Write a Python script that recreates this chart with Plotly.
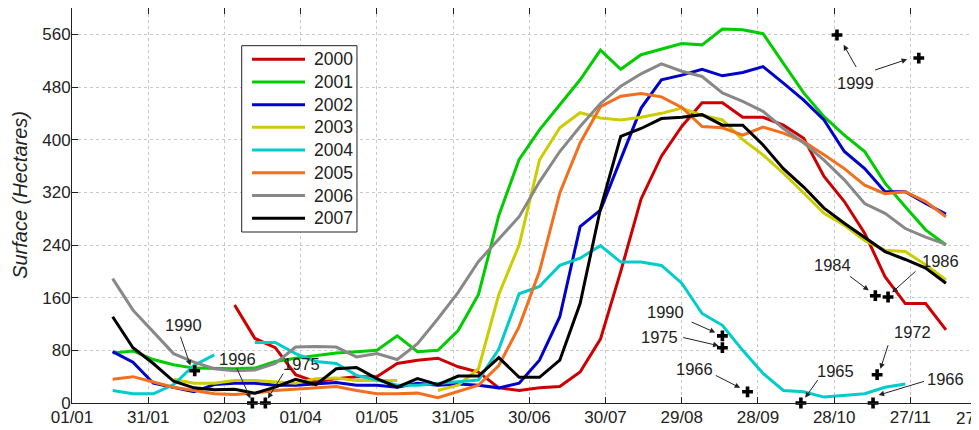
import plotly.graph_objects as go

# ---- data -------------------------------------------------------------
days = [16, 24, 32, 40, 48, 56, 64, 72, 80, 88, 96, 104, 112, 120, 128, 136,
        144, 152, 160, 168, 176, 184, 192, 200, 208, 216, 224, 232, 240, 248,
        256, 264, 272, 280, 288, 296, 304, 312, 320, 328, 336, 344]

y2000 = [None, None, None, None, None, None, 149, 98, 84, 43, 32, 37, 40, 40, 60, 65,
         68, 55, 47, 23, 19, 23, 25, 47, 97, 200, 310, 375, 420, 456,
         456, 434, 434, 422, 402, 344, 306, 258, 192, 151, 151, 111]
y2001 = [76, 79, 66, 58, 53, 52, 52, 53, 63, 68, 72, 76, 78, 80, 102, 78,
         80, 110, 165, 285, 370, 415, 453, 491, 536, 507, 529, 537, 546, 544,
         568, 567, 561, 516, 471, 435, 407, 382, 334, 298, 263, 240]
y2002 = [78, 62, 30, 24, 17, 28, 30, 30, 27, 27, 29, 31, 27, 27, 24, 30,
         27, 29, 27, 23, 30, 65, 131, 268, 293, 369, 448, 491, 498, 507,
         497, 502, 511, 486, 460, 430, 382, 356, 321, 321, 303, 287]
y2003 = [None, None, None, 36, 30, 30, 34, 34, 32, 30, 37, 38, 34, 34, 34, None,
         19, 27, 52, 165, 240, 369, 418, 441, 433, 430, 434, 440, 448, 437,
         430, 400, 377, 349, 319, 288, 270, 247, 232, 230, 210, 187]
y2004 = [19, 14, 14, 28, 57, 73, None, 92, 92, 75, 63, 60, 42, 35, 27, 27,
         30, 32, 35, 82, 166, 177, 209, 220, 239, 214, 214, 209, 182, 136,
         118, 80, 45, 19, 17, 9, 12, 14, 24, 29, None, None]
y2005 = [36, 40, 32, 24, 19, 14, 13, 15, 19, 21, 23, 25, 19, 14, 14, 15,
         8, 17, 27, 57, 116, 200, 319, 395, 450, 466, 470, 465, 449, 420,
         418, 407, 419, 410, 397, 377, 356, 331, 318, 321, 306, 283]
y2006 = [189, 141, 108, 75, 62, 52, 49, 50, 60, 85, 86, 85, 70, 75, 66, 90,
         128, 168, 215, 249, 283, 336, 382, 420, 455, 481, 500, 515, 504, 496,
         471, 458, 443, 417, 395, 369, 339, 303, 288, 265, 252, 241]
y2007 = [131, 84, 60, 33, 23, 20, 21, 15, 24, 36, 28, 52, 54, 37, 24, 37,
         28, 41, 41, 69, 39, 39, 65, 151, 295, 405, 417, 432, 434, 438,
         422, 422, 392, 356, 328, 296, 273, 252, 230, 218, 205, 182]

series_names = ["2000", "2001", "2002", "2003", "2004", "2005", "2006", "2007"]
series_values = [y2000, y2001, y2002, y2003, y2004, y2005, y2006, y2007]
series_colors = ["#CC0000", "#00CC00", "#0000CC", "#CCCC00",
                 "#00CCCC", "#F36F1E", "#888888", "#000000"]

# historical observations (+ markers)
marker_years = ["1990", "1996", "1975", "1999", "1999", "1990", "1975",
                "1966", "1965", "1984", "1986", "1972", "1966"]
marker_days = [48.3, 71, 76.1, 301.1, 333.3, 256, 256, 265.9, 286.9,
               316.2, 321.2, 316.9, 315.3]
marker_vals = [49, 0, 0, 559, 524, 102, 84, 17, 0, 163, 161, 43, 0]

tick_days = [0, 30, 60, 90, 120, 150, 180, 210, 240, 270, 300, 330, 360]
tick_labels = ["01/01", "31/01", "02/03", "01/04", "01/05", "31/05", "30/06",
               "30/07", "29/08", "28/09", "28/10", "27/11", "27/12"]
y_ticks = [0, 80, 160, 240, 320, 400, 480, 560]
X_MAX = 357

# label placement (text centre, arrow tail -> arrow tip), in data units
labels = [
    ("1990", 43.7, 118, [(42.5, 103, 46.6, 57)]),
    ("1996", 65.3, 67.5, [(64.6, 55, 70.2, 7)]),
    ("1975", 90.3, 59, [(83.5, 47, 77.1, 7)]),
    ("1999", 308.3, 486, [(309, 508, 303.7, 544), (315.5, 505, 328.7, 522)]),
    ("1990", 233.7, 138, [(243.3, 124, 253.2, 107)]),
    ("1975", 231.1, 101, [(240, 100, 254.5, 87)]),
    ("1966", 245, 52, [(252.8, 43, 263, 23)]),
    ("1965", 300.4, 49, [(293.9, 37, 288.6, 8)]),
    ("1984", 299.5, 210, [(305.7, 194, 313.6, 171)]),
    ("1986", 341.8, 215, [(332.6, 202, 322.8, 168)]),
    ("1972", 330.7, 108, [(321.4, 90, 318.2, 52)]),
    ("1966", 343.8, 37, [(335.9, 33.5, 317.5, 12)]),
]

FONT = "Liberation Sans, Arial, sans-serif"
TXT = "#222222"

fig = go.Figure()
for name, vals, col in zip(series_names, series_values, series_colors):
    fig.add_trace(go.Scatter(x=days, y=vals, mode="lines", name=name,
                             line=dict(color=col, width=3),
                             connectgaps=False, showlegend=False))

fig.add_trace(go.Scatter(x=marker_days, y=marker_vals, mode="markers",
                         text=marker_years, showlegend=False,
                         marker=dict(symbol="cross", size=9, color="black",
                                     line=dict(width=0)),
                         cliponaxis=False))

annotations = []
shapes = []
for text, tx, ty, arrows in labels:
    annotations.append(dict(x=tx, y=ty, xref="x", yref="y", text=text,
                            showarrow=False,
                            font=dict(family=FONT, size=16.5, color=TXT)))
    for (ax_, ay_, hx, hy) in arrows:
        annotations.append(dict(x=hx, y=hy, ax=ax_, ay=ay_, xref="x", yref="y",
                                axref="x", ayref="y", text="", showarrow=True,
                                arrowhead=2, arrowsize=1.1, arrowwidth=1,
                                arrowcolor=TXT))
# last x tick label lies just past the right edge (only partly visible)
annotations.append(dict(x=tick_days[-1] / X_MAX, y=0, xref="paper",
                        yref="paper", text=tick_labels[-1],
                        showarrow=False, xanchor="center", yanchor="top",
                        yshift=-4, xshift=-9,
                        font=dict(family=FONT, size=17, color=TXT)))
# y axis title
annotations.append(dict(x=-0.0573, y=0.527, xref="paper", yref="paper",
                        text="<i>Surface (Hectares)</i>", textangle=-90,
                        showarrow=False, xanchor="center", yanchor="middle",
                        font=dict(family=FONT, size=20, color=TXT)))

# legend box (paper coordinates)
LEG_X0, LEG_X1, LEG_Y0, LEG_Y1 = 0.1871, 0.3142, 0.4329, 0.9046
LINE_X0, LINE_X1, TEXT_X = 0.1985, 0.2569, 0.2646
ROW_TOP, ROW_STEP = 0.8703, 0.0575
shapes.append(dict(type="rect", xref="paper", yref="paper",
                   x0=LEG_X0, x1=LEG_X1, y0=LEG_Y0, y1=LEG_Y1,
                   line=dict(color=TXT, width=1), fillcolor="white",
                   layer="above"))
for i, (name, col) in enumerate(zip(series_names, series_colors)):
    yy = ROW_TOP - i * ROW_STEP
    shapes.append(dict(type="line", xref="paper", yref="paper",
                       x0=LINE_X0, x1=LINE_X1, y0=yy, y1=yy,
                       line=dict(color=col, width=3), layer="above"))
    annotations.append(dict(x=TEXT_X, y=yy, xref="paper", yref="paper",
                            text=name, showarrow=False, xanchor="left",
                            yanchor="middle",
                            font=dict(family=FONT, size=17.5, color=TXT)))

fig.update_layout(
    width=971, height=422,
    margin=dict(l=64, r=0, t=0, b=27),
    paper_bgcolor="white", plot_bgcolor="white",
    font=dict(family=FONT, size=17, color=TXT),
    showlegend=False,
    annotations=annotations,
    shapes=shapes,
)
fig.update_xaxes(range=[0, X_MAX], tickmode="array", tickvals=tick_days,
                 ticktext=tick_labels, ticks="inside", ticklen=6,
                 tickcolor=TXT, showline=True, linecolor=TXT,
                 linewidth=1, mirror="ticks", showgrid=True,
                 gridcolor="#c8c8c8", griddash="dot", gridwidth=1,
                 zeroline=False, tickfont=dict(size=17),
                 ticklabelstandoff=-1)
fig.update_yaxes(range=[0, 600], tickmode="array", tickvals=y_ticks,
                 ticks="inside", ticklen=6, tickcolor=TXT,
                 showline=True, linecolor=TXT, linewidth=1,
                 mirror="ticks", showgrid=True, gridcolor="#c8c8c8",
                 griddash="dot", gridwidth=1, zeroline=False,
                 tickfont=dict(size=17), ticklabelstandoff=-3)

fig.write_html("out.html")
